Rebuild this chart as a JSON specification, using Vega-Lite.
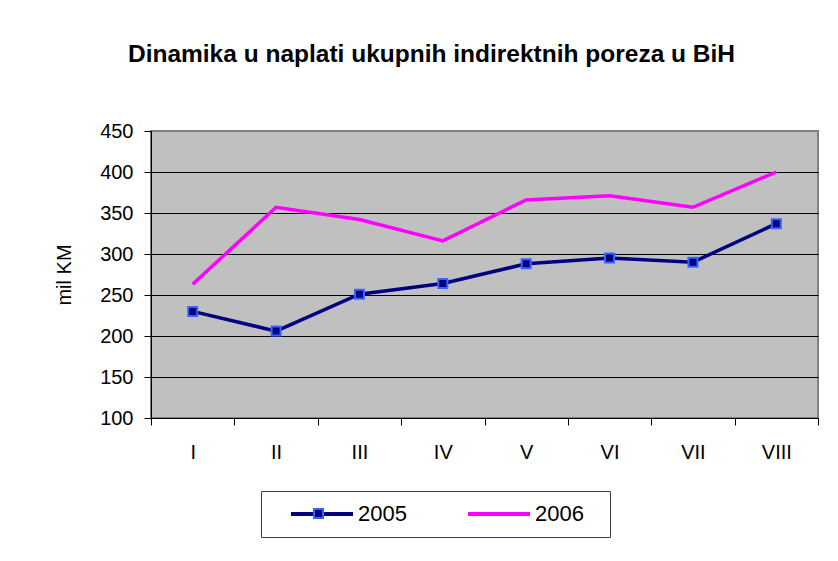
{
  "$schema": "https://vega.github.io/schema/vega-lite/v6.json",
  "width": 667,
  "height": 287,
  "autosize": {"type": "none"},
  "padding": {"left": 151, "top": 131, "right": 20, "bottom": 143},
  "background": "white",
  "title": {
    "text": "Dinamika u naplati ukupnih indirektnih poreza u BiH",
    "font": "Liberation Sans",
    "fontSize": 24.5,
    "fontWeight": "bold",
    "color": "#000000",
    "anchor": "middle",
    "dx": -53,
    "offset": 54
  },
  "config": {
    "font": "Liberation Sans",
    "view": {"fill": "#C0C0C0", "stroke": "#808080", "strokeWidth": 2}
  },
  "data": {
    "values": [
      {"month": "I", "series": "2005", "value": 230},
      {"month": "II", "series": "2005", "value": 206},
      {"month": "III", "series": "2005", "value": 251},
      {"month": "IV", "series": "2005", "value": 264},
      {"month": "V", "series": "2005", "value": 288},
      {"month": "VI", "series": "2005", "value": 295},
      {"month": "VII", "series": "2005", "value": 290},
      {"month": "VIII", "series": "2005", "value": 337},
      {"month": "I", "series": "2006", "value": 263},
      {"month": "II", "series": "2006", "value": 357},
      {"month": "III", "series": "2006", "value": 342},
      {"month": "IV", "series": "2006", "value": 316},
      {"month": "V", "series": "2006", "value": 366},
      {"month": "VI", "series": "2006", "value": 371},
      {"month": "VII", "series": "2006", "value": 357},
      {"month": "VIII", "series": "2006", "value": 400}
    ]
  },
  "encoding": {
    "x": {
      "field": "month",
      "type": "ordinal",
      "sort": ["I", "II", "III", "IV", "V", "VI", "VII", "VIII"],
      "scale": {"paddingInner": 0, "paddingOuter": 0},
      "axis": {
        "title": null,
        "labelAngle": 0,
        "tickBand": "extent",
        "grid": false,
        "domainColor": "#000000",
        "tickColor": "#000000",
        "tickSize": 7,
        "labelFontSize": 20,
        "labelColor": "#000000",
        "labelPadding": 17
      }
    },
    "y": {
      "field": "value",
      "type": "quantitative",
      "scale": {"domain": [100, 450], "nice": false, "zero": false},
      "axis": {
        "title": "mil KM",
        "values": [100, 150, 200, 250, 300, 350, 400, 450],
        "grid": true,
        "gridColor": "#000000",
        "gridWidth": 1,
        "gridOpacity": {"condition": {"test": "datum.value == 450 || datum.value == 100", "value": 0}, "value": 1},
        "domainColor": "#000000",
        "tickColor": "#000000",
        "tickSize": 7,
        "labelFontSize": 20,
        "labelColor": "#000000",
        "labelPadding": 11,
        "titleFontSize": 20,
        "titleFontWeight": "normal",
        "titleColor": "#000000",
        "titlePadding": 25
      }
    }
  },
  "layer": [
    {
      "mark": {"type": "line", "strokeWidth": 3.5},
      "encoding": {
        "color": {
          "field": "series",
          "type": "nominal",
          "scale": {"domain": ["2005", "2006"], "range": ["#000080", "#FF00FF"]},
          "legend": {
            "orient": "none",
            "legendX": 110,
            "legendY": 360,
            "direction": "horizontal",
            "columns": 2,
            "title": "i",
            "titleOrient": "right",
            "titleColor": "#FFFFFF",
            "titleFontSize": 10,
            "titlePadding": 11,
            "symbolType": "M-1,0H1",
            "symbolSize": 3844,
            "symbolStrokeWidth": 4,
            "labelFontSize": 22,
            "labelColor": "#000000",
            "padding": 12,
            "strokeColor": "#404040",
            "fillColor": "#FFFFFF",
            "columnPadding": 43,
            "labelOffset": 3,
            "symbolOffset": 16,
            "clipHeight": 22
          }
        }
      }
    },
    {
      "transform": [{"filter": "datum.series == '2005'"}],
      "mark": {"type": "point", "shape": "square", "filled": true, "size": 81, "stroke": "#3366FF", "strokeWidth": 2, "opacity": 1},
      "encoding": {
        "fill": {
          "field": "series",
          "type": "nominal",
          "scale": {"domain": ["2005"], "range": ["#000080"]},
          "legend": {
            "orient": "none",
            "legendX": 162,
            "legendY": 377,
            "title": null,
            "symbolType": "square",
            "symbolSize": 81,
            "symbolStrokeColor": "#3366FF",
            "symbolStrokeWidth": 2,
            "symbolOpacity": 1,
            "labelOpacity": 0,
            "labelFontSize": 1,
            "padding": 0
          }
        }
      }
    }
  ]
}
